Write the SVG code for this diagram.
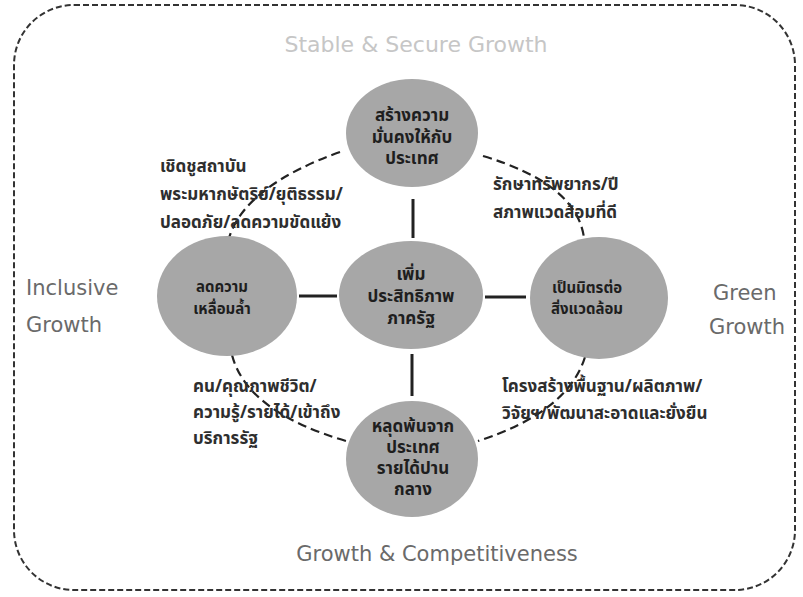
<svg xmlns="http://www.w3.org/2000/svg" width="803" height="597" viewBox="0 0 803 597">
<style>
.node{fill:#a7a7a7;}
.lbl{font-family:"Noto Sans","Noto Sans Thai","DejaVu Sans",sans-serif;font-size:17px;font-weight:bold;fill:#1e1e1e;text-anchor:middle;}
.sm{font-size:15px;}
.note{font-family:"Noto Sans","Noto Sans Thai","DejaVu Sans",sans-serif;font-size:17px;font-weight:bold;fill:#2e2e2e;}
.eng{font-family:"DejaVu Sans",sans-serif;font-size:21px;fill:#6a6a6a;}
.conn{stroke:#222;stroke-width:3;fill:none;}
.dash{stroke:#222;stroke-width:2.2;fill:none;stroke-dasharray:9 5;}
</style>
<rect width="803" height="597" fill="#ffffff"/>
<rect x="14" y="5" width="781" height="585" rx="60" ry="60" fill="none" stroke="#333" stroke-width="2" stroke-dasharray="6 3"/>
<text class="eng" x="416" y="52" text-anchor="middle" style="fill:#c6c6c6;font-size:22px">Stable &amp; Secure Growth</text>
<text class="eng" x="26" y="295">Inclusive</text>
<text class="eng" x="26" y="332">Growth</text>
<text class="eng" x="713" y="300">Green</text>
<text class="eng" x="709" y="334">Growth</text>
<text class="eng" x="437" y="561" text-anchor="middle">Growth &amp; Competitiveness</text>
<g id="connectors">
<path class="dash" d="M340,152 Q245,186 229,238"/>
<path class="dash" d="M483,156 Q577,184 584,238"/>
<path class="dash" d="M232,355 Q247,412 346,441"/>
<path class="dash" d="M585,357 Q568,412 478,441"/>
<line class="conn" x1="413" y1="199" x2="413" y2="238"/>
<line class="conn" x1="299" y1="296" x2="337" y2="296"/>
<line class="conn" x1="485" y1="297" x2="526" y2="297"/>
<line class="conn" x1="412" y1="354" x2="412" y2="396"/>
</g>
<g id="n-top">
<ellipse class="node" cx="412" cy="133" rx="66" ry="54"/>
<text class="lbl" x="412" y="121">สร้างความ</text>
<text class="lbl" x="412" y="143">มั่นคงให้กับ</text>
<text class="lbl" x="412" y="164">ประเทศ</text>
</g>
<g id="n-center">
<ellipse class="node" cx="411" cy="295" rx="72" ry="54"/>
<text class="lbl" x="411" y="280">เพิ่ม</text>
<text class="lbl" x="411" y="302">ประสิทธิภาพ</text>
<text class="lbl" x="411" y="324">ภาครัฐ</text>
</g>
<g id="n-left">
<ellipse class="node" cx="227" cy="296" rx="70" ry="60"/>
<text class="lbl sm" x="222" y="292">ลดความ</text>
<text class="lbl sm" x="222" y="314">เหลื่อมล้ำ</text>
</g>
<g id="n-right">
<ellipse class="node" cx="599" cy="298" rx="69" ry="61"/>
<text class="lbl sm" x="587" y="293">เป็นมิตรต่อ</text>
<text class="lbl sm" x="587" y="314">สิ่งแวดล้อม</text>
</g>
<g id="n-bottom">
<ellipse class="node" cx="412" cy="459" rx="66" ry="58"/>
<text class="lbl" x="413" y="432">หลุดพ้นจาก</text>
<text class="lbl" x="413" y="453">ประเทศ</text>
<text class="lbl" x="413" y="474">รายได้ปาน</text>
<text class="lbl" x="413" y="495">กลาง</text>
</g>
<g id="notes">
<text class="note" x="160" y="172">เชิดชูสถาบัน</text>
<text class="note" x="160" y="200">พระมหากษัตริย์/ยุติธรรม/</text>
<text class="note" x="160" y="228">ปลอดภัย/ลดความขัดแย้ง</text>
<text class="note" x="493" y="190">รักษาทรัพยากร/ปี</text>
<text class="note" x="493" y="218">สภาพแวดล้อมที่ดี</text>
<text class="note" x="193" y="392">คน/คุณภาพชีวิต/</text>
<text class="note" x="193" y="418">ความรู้/รายได้/เข้าถึง</text>
<text class="note" x="193" y="444">บริการรัฐ</text>
<text class="note" x="502" y="392">โครงสร้างพื้นฐาน/ผลิตภาพ/</text>
<text class="note" x="502" y="419">วิจัยฯ/พัฒนาสะอาดและยั่งยืน</text>
</g>
</svg>
